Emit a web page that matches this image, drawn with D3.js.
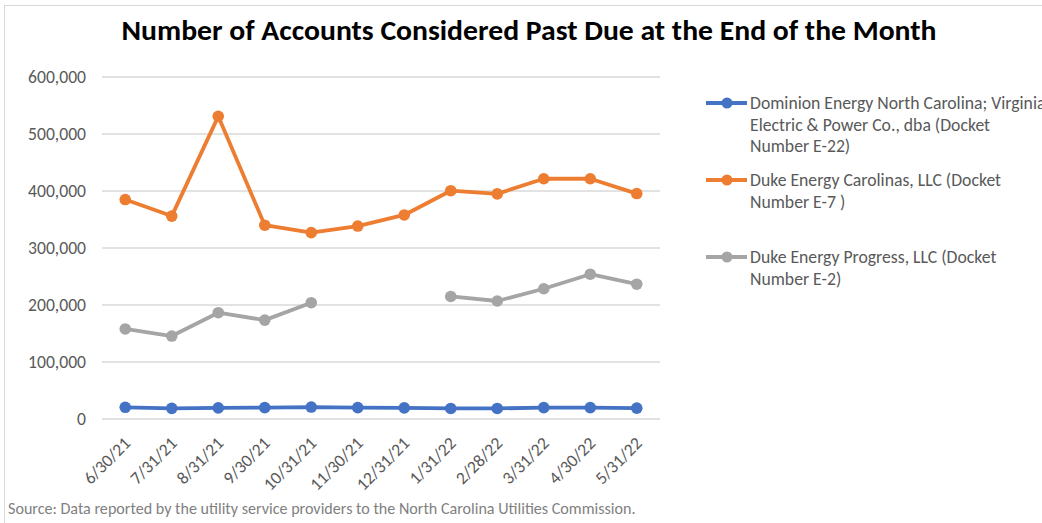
<!DOCTYPE html>
<html>
<head>
<meta charset="utf-8">
<script src="https://cdn.jsdelivr.net/npm/d3@7"></script>
<style>
  body { margin: 0; background: #fff; }
  text { font-family: Carlito, "Open Sans", "Noto Sans", sans-serif; }
</style>
</head>
<body>
<div class="chart"></div>
<script>
// Data
var months = ["6/30/21", "7/31/21", "8/31/21", "9/30/21", "10/31/21", "11/30/21",
              "12/31/21", "1/31/22", "2/28/22", "3/31/22", "4/30/22", "5/31/22"];
var dominion = [20500, 18700, 19500, 20000, 21000, 20000, 19500, 18500, 18500, 20000, 20000, 19000];
var dukeCarolinas = [385000, 356000, 531000, 340000, 327000, 338500, 358000, 400500, 395000, 421500, 421500, 395500];
var dukeProgress = [158000, 145500, 186500, 173500, 204000, null, null, 215000, 207000, 228500, 254000, 236500];
var yTicks = [0, 100000, 200000, 300000, 400000, 500000, 600000];
var seriesNames = [
    ["Dominion Energy North Carolina; Virginia", "Electric & Power Co., dba (Docket", "Number E-22)"],
    ["Duke Energy Carolinas, LLC (Docket", "Number E-7 )"],
    ["Duke Energy Progress, LLC (Docket", "Number E-2)"]
];
var colors = ["#4472C4", "#ED7D31", "#A5A5A5"];
var allSeries = [dominion, dukeCarolinas, dukeProgress];

var svgWidth = 1042, svgHeight = 523;
var margin = {top: 77, left: 102, right: 382, bottom: 104};
var width = svgWidth - margin.left - margin.right;
var height = svgHeight - margin.top - margin.bottom;

var svg = d3.select(".chart")
    .append("svg")
    .attr("width", svgWidth)
    .attr("height", svgHeight);

// outer chart border
svg.append("rect")
    .attr("x", 4.5).attr("y", 5.5)
    .attr("width", svgWidth + 10).attr("height", svgHeight - 5)
    .attr("fill", "none")
    .attr("stroke", "#d9d9d9");

// Title
svg.append("text")
    .attr("x", 529).attr("y", 40)
    .attr("text-anchor", "middle")
    .attr("textLength", 815)
    .attr("lengthAdjust", "spacingAndGlyphs")
    .style("font-size", "28px")
    .style("font-weight", "bold")
    .style("fill", "#000")
    .text("Number of Accounts Considered Past Due at the End of the Month");

var chartGroup = svg.append("g")
    .attr("transform", `translate(${margin.left}, ${margin.top})`);

var xScale = d3.scaleBand()
    .domain(months)
    .range([0, width]);
var yScale = d3.scaleLinear()
    .domain([0, 600000])
    .range([height, 0]);

// gridlines
chartGroup.append("g")
    .selectAll("line")
    .data(yTicks)
    .enter()
    .append("line")
    .attr("x1", 0).attr("x2", width)
    .attr("y1", d => yScale(d)).attr("y2", d => yScale(d))
    .attr("stroke", "#d9d9d9")
    .attr("stroke-width", 1.3);

// y axis
var leftAxis = d3.axisLeft(yScale)
    .tickValues(yTicks)
    .tickSize(0)
    .tickPadding(16)
    .tickFormat(d3.format(","));
var yAxisG = chartGroup.append("g").call(leftAxis);
yAxisG.select(".domain").remove();
yAxisG.selectAll("text")
    .style("font-size", "17.6px")
    .style("fill", "#595959")
    .style("font-family", "Carlito, 'Open Sans', sans-serif");

// x axis
var bottomAxis = d3.axisBottom(xScale).tickSize(0);
var xAxisG = chartGroup.append("g")
    .attr("transform", `translate(0, ${height})`)
    .call(bottomAxis);
xAxisG.select(".domain").remove();
xAxisG.selectAll("text")
    .attr("transform", "translate(2, 21) rotate(-45)")
    .attr("text-anchor", "end")
    .attr("dy", "0.35em")
    .attr("y", 0)
    .style("font-size", "17.5px")
    .style("fill", "#595959")
    .style("font-family", "Carlito, 'Open Sans', sans-serif");

// lines and markers
var line = d3.line()
    .defined(d => d !== null)
    .x((d, i) => xScale(months[i]) + xScale.bandwidth() / 2)
    .y(d => yScale(d));

allSeries.forEach(function(values, s) {
    chartGroup.append("path")
        .datum(values)
        .attr("d", line)
        .attr("fill", "none")
        .attr("stroke", colors[s])
        .attr("stroke-width", 3.8)
        .attr("stroke-linejoin", "round");
    chartGroup.selectAll(".pt" + s)
        .data(values.map((v, i) => ({v: v, i: i})).filter(d => d.v !== null))
        .enter()
        .append("circle")
        .attr("class", "pt" + s)
        .attr("cx", d => xScale(months[d.i]) + xScale.bandwidth() / 2)
        .attr("cy", d => yScale(d.v))
        .attr("r", 5.8)
        .attr("fill", colors[s]);
});

// legend
var legendTops = [103, 180, 257];
seriesNames.forEach(function(lines, s) {
    var g = svg.append("g").attr("transform", `translate(706, ${legendTops[s]})`);
    g.append("line")
        .attr("x1", 0).attr("x2", 41)
        .attr("y1", 0).attr("y2", 0)
        .attr("stroke", colors[s])
        .attr("stroke-width", 3.8);
    g.append("circle")
        .attr("cx", 21).attr("cy", 0).attr("r", 5.5)
        .attr("fill", colors[s]);
    lines.forEach(function(t, k) {
        g.append("text")
            .attr("x", 44)
            .attr("y", k * 21.5)
            .attr("dy", "0.35em")
            .style("font-size", "17.7px")
            .style("fill", "#595959")
            .text(t);
    });
});

// source
svg.append("text")
    .attr("x", 8).attr("y", 514)
    .style("font-size", "16.1px")
    .style("fill", "#7f7f7f")
    .text("Source: Data reported by the utility service providers to the North Carolina Utilities Commission.");
</script>
</body>
</html>
